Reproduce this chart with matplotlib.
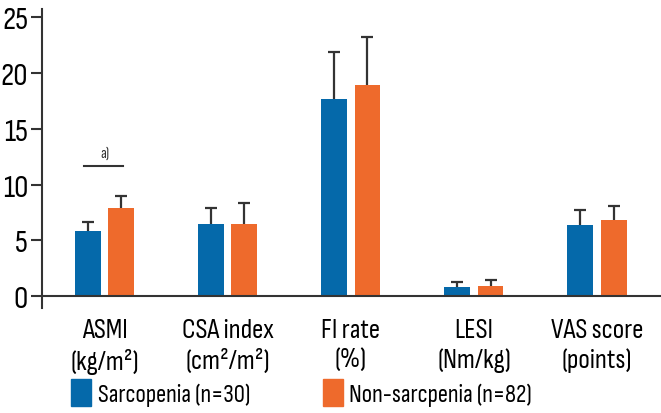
import numpy as np
import matplotlib as mpl
import matplotlib.pyplot as plt
from matplotlib.patches import Patch

mpl.rcParams['font.family'] = ['Sofia Sans Condensed', 'DejaVu Sans']

categories = ['ASMI\n(kg/m²)', 'CSA index\n(cm²/m²)', 'FI rate\n(%)', 'LESI\n(Nm/kg)', 'VAS score\n(points)']
sarco_mean = [5.8, 6.5, 17.7, 0.8, 6.4]
sarco_sd = [0.8, 1.4, 4.2, 0.45, 1.3]
non_mean = [7.9, 6.5, 18.9, 0.9, 6.8]
non_sd = [1.1, 1.8, 4.3, 0.5, 1.3]
labels = ['Sarcopenia (n=30)', 'Non-sarcpenia (n=82)']
yticks = [0, 5, 10, 15, 20, 25]

blue = '#0569AA'
orange = '#EE6A2C'
dark = '#333333'

x = np.arange(len(categories))
width = 0.21
off = 0.135

fig = plt.figure(figsize=(6.61, 4.14), dpi=100)
ax = fig.add_axes([0.0635, 0.2536, 0.9365, 0.7222])

ax.bar(x - off, sarco_mean, width, color=blue, zorder=2)
ax.bar(x + off, non_mean, width, color=orange, zorder=2)

# upward-only error bars (hide the lower cap)
for xs, m, sd in [(x - off, sarco_mean, sarco_sd), (x + off, non_mean, non_sd)]:
    eb = ax.errorbar(xs, m, yerr=[np.zeros(len(xs)), sd], fmt='none', ecolor=dark,
                     elinewidth=1.6, capsize=4, capthick=1.6, zorder=3)
    eb[1][0].set_visible(False)

ax.set_xlim(-0.51, 4.52)
ax.set_ylim(-1.08, 25.75)
ax.axhline(0, color=dark, lw=1.5, zorder=4)

for s in ['top', 'right', 'bottom']:
    ax.spines[s].set_visible(False)
ax.spines['left'].set_color(dark)
ax.spines['left'].set_linewidth(1.5)

ax.set_yticks(yticks)
ax.tick_params(axis='y', length=8, width=1.5, color=dark, labelsize=23, pad=2)
ax.set_xticks(x)
ax.set_xticklabels(categories, fontsize=20, linespacing=1.3)
ax.tick_params(axis='x', length=0, pad=7)

# significance marker
ax.plot([-0.17, 0.146], [11.7, 11.7], color=dark, lw=1.5)
ax.text(0, 12.2, 'a)', ha='center', va='bottom', fontsize=11, color=dark)

handles = [Patch(color=blue), Patch(color=orange)]
fig.legend(handles, labels, loc='center left', bbox_to_anchor=(0.108, 0.05),
           ncol=2, frameon=False, fontsize=18, handlelength=0.8, handleheight=1.3,
           handletextpad=0.25, columnspacing=2.9, borderpad=0, borderaxespad=0)

plt.savefig('out.png', dpi=100)
